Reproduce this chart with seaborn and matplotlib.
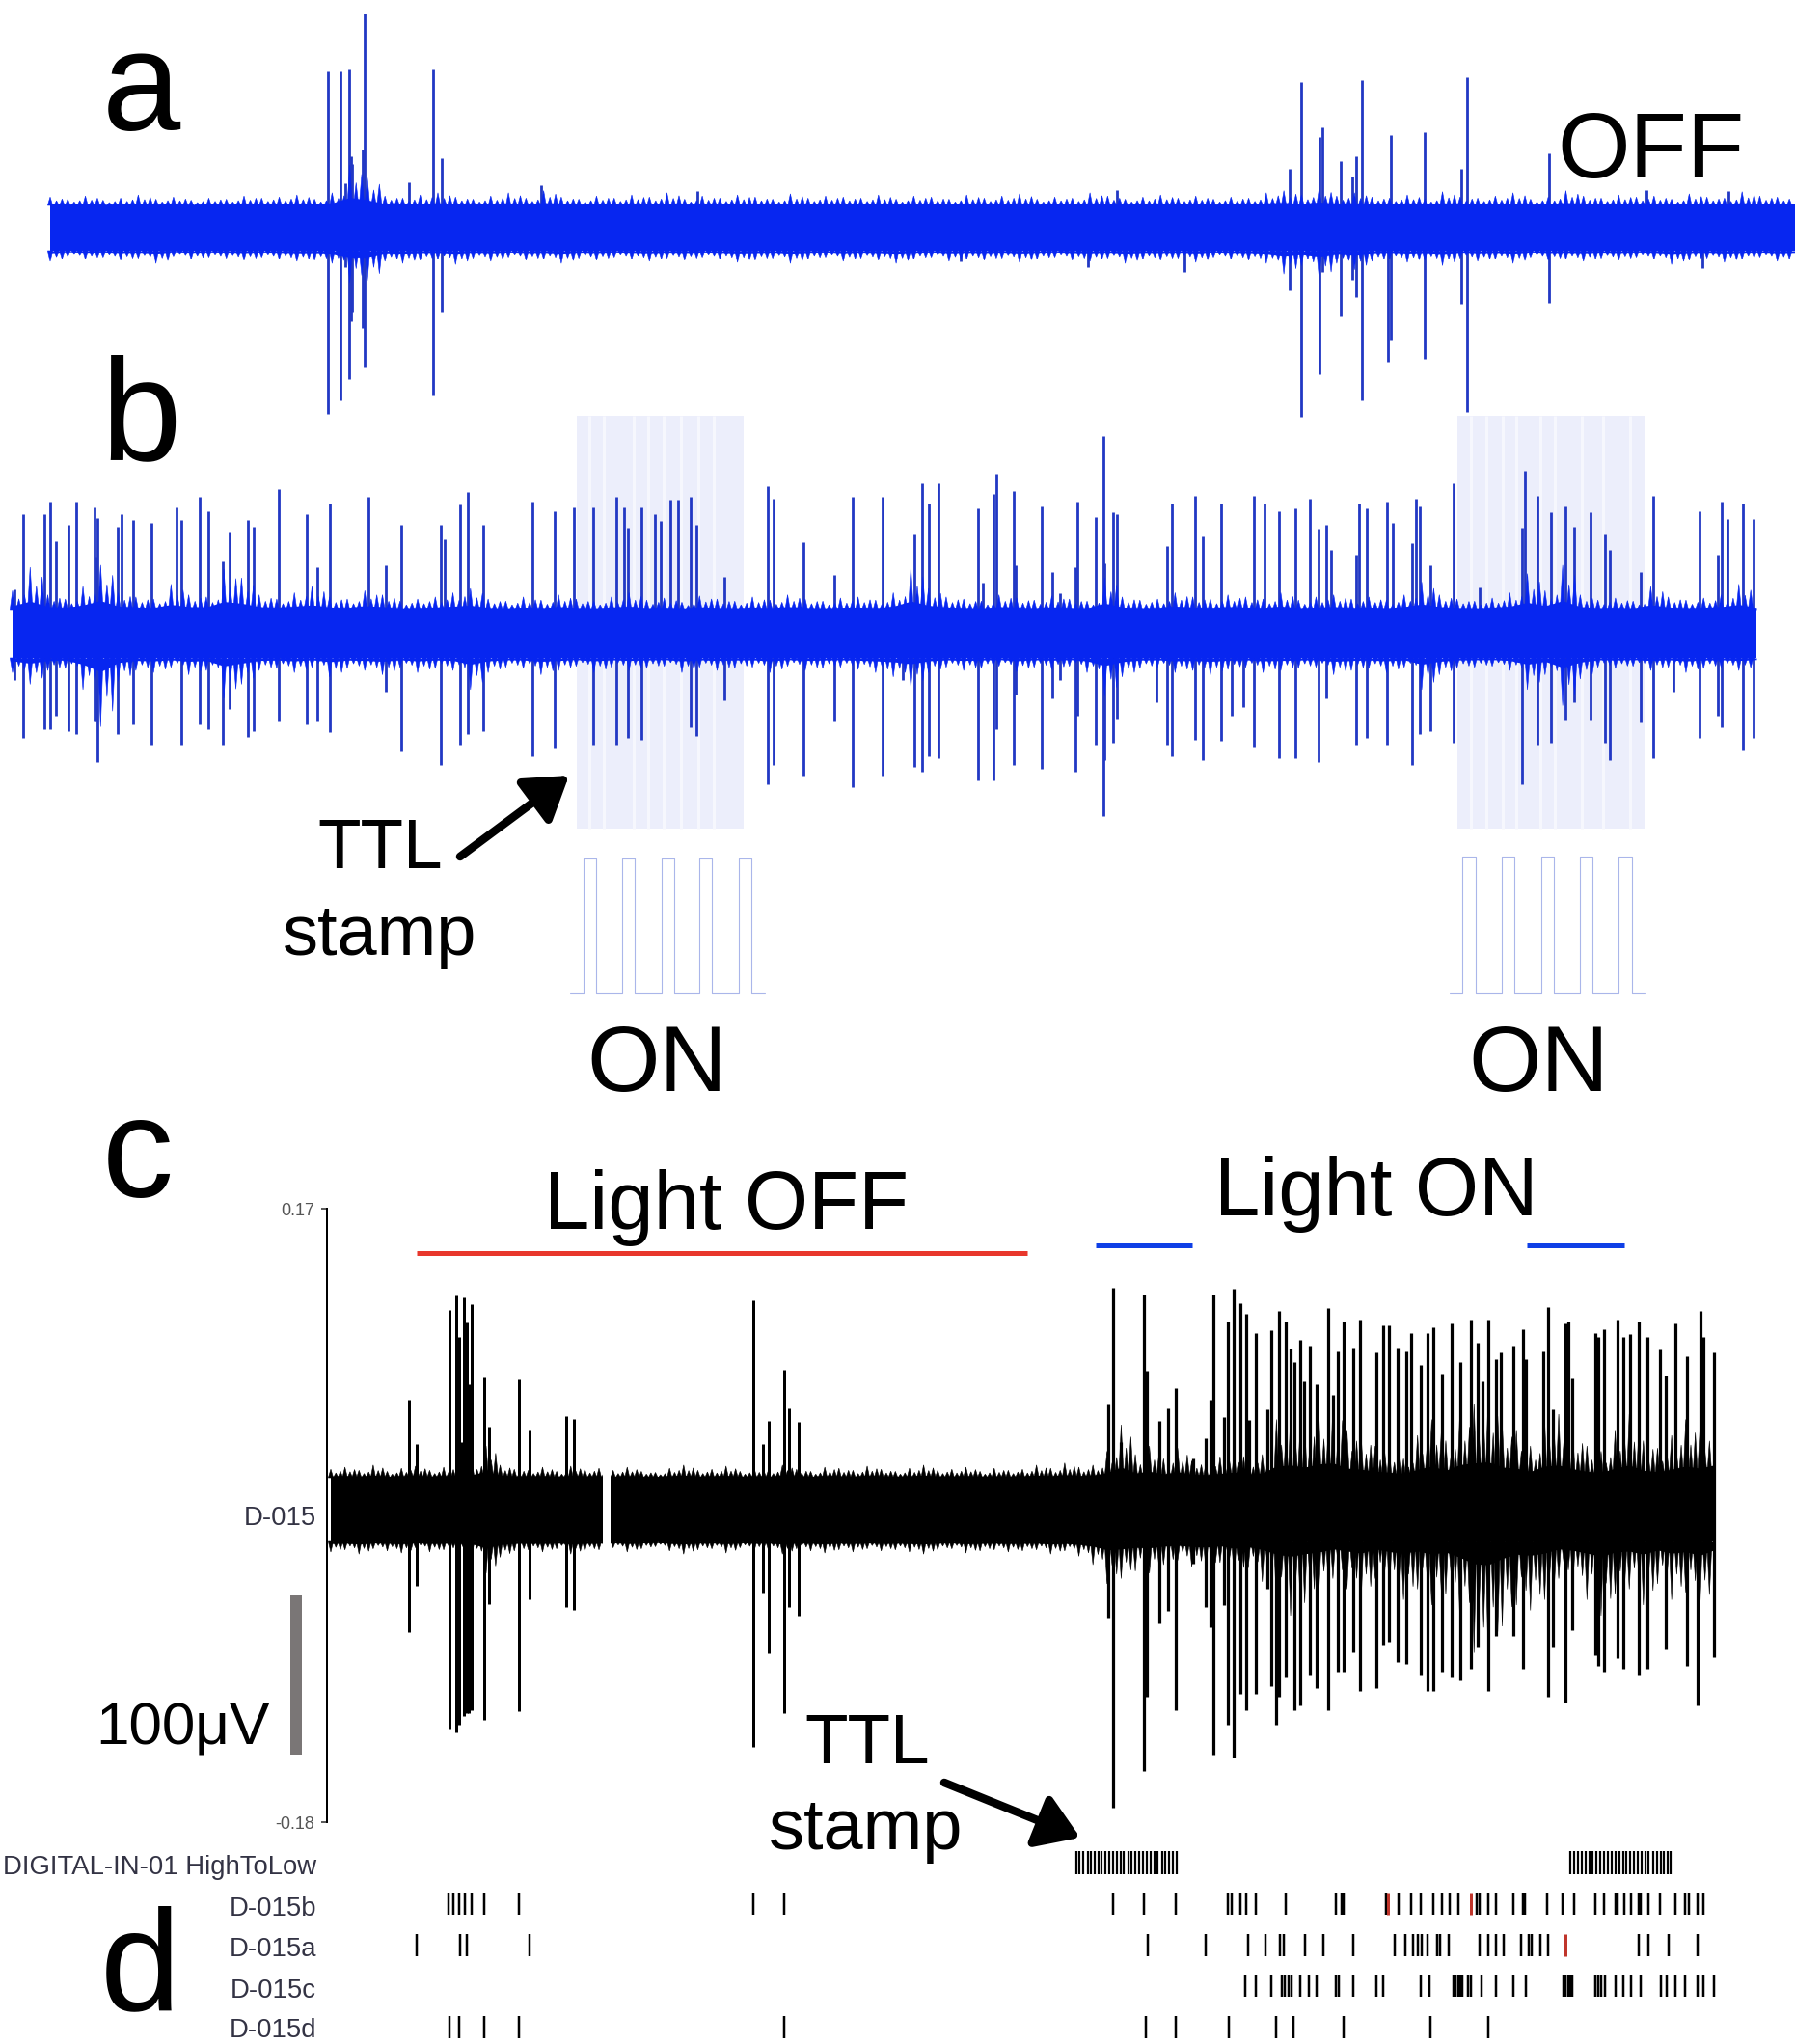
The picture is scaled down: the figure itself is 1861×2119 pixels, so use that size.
import numpy as np
import matplotlib
matplotlib.use("Agg")
import matplotlib.pyplot as plt
from matplotlib.patches import Rectangle
import seaborn as sns

W, H = 1861, 2119
BLUE = "#0726f0"
SPIKE_BLUE = "#2238c4"
PULSE = "#aab6ea"
SHADE = "#eceefb"
FONT = ["Liberation Sans", "DejaVu Sans"]

# (x, top, bottom) read from crops of the picture; 0 = no excursion
A_L = [(573,222,1288),(596,222,1245),(610,215,1180),(613,485,1000),(616,510,970),(634,465,1020),(638,42,1140),
       (757,215,1230),(772,493,968),(715,568,0),(946,575,0),(1219,595,0),(604,570,830)]
A_R = [(687,525,902),(707,255,1295),(739,425,1165),(743,395,845),(775,500,985),(795,550,870),(803,487,925),
       (813,248,1245),(858,0,1125),(863,420,1055),(923,412,1115),(987,525,945),(997,240,1280),(1139,478,942),
       (503,0,845),(333,0,830),(1407,0,835),(112,0,812),(384,592,0),(1453,595,0),(1310,592,0)]
B_L = [(40,225,730),(78,225,710),(88,197,710),(98,285,680),(120,248,715),(134,197,722),(165,208,690),(168,320,690),
       (170,232,785),(205,252,722),(213,225,0),(232,237,700),(264,243,745),(308,208,0),(317,237,745),(349,185,700),
       (365,218,710),(389,330,745),(402,265,665),(433,237,728),(443,252,715),(487,168,690),(536,225,700),(555,345,690),
       (576,200,717),(644,185,0),(675,340,625),(702,248,760),(770,248,790),(778,282,0),(805,203,745),(818,175,720),
       (845,248,715),(930,197,770),(970,218,752),(1003,208,0),(1037,208,745),(1078,185,745),(1091,208,0),(1098,255,730),
       (1122,208,735),(1145,225,0),(1155,240,0),(1172,192,0),(1186,192,0),(1208,185,705),(1218,248,725),(1266,365,645),
       (1342,162,835),(1352,190,790),(1405,288,815),(1458,362,690),(1490,185,840),(1543,185,815),(25,395,600)]
B_R = [(10,0,600),(30,270,795),(43,155,805),(55,200,770),(73,155,775),(141,212,825),(150,380,0),(168,178,825),
       (173,133,710),(204,172,790),(208,340,632),(253,207,800),(271,355,640),(285,402,600),(312,345,805),(316,195,680),
       (348,230,745),(360,48,905),(363,335,780),(378,220,740),(384,225,685),(454,0,650),(472,297,745),(481,200,770),
       (521,183,735),(535,275,780),(566,200,737),(585,0,680),(605,0,660),(624,183,750),(642,200,0),(668,218,775),
       (697,212,775),(722,190,0),(736,258,785),(751,248,640),(758,305,0),(803,315,745),(808,200,0),(821,212,730),
       (856,195,745),(866,245,0),(901,290,790),(907,190,0),(914,207,720),(932,340,715),(973,155,740),(1018,390,0),
       (1093,255,835),(1098,127,0),(1120,183,745),(1143,220,740),(1168,207,688),(1183,252,650),(1213,220,688),
       (1237,270,740),(1246,305,780),(1300,355,695),(1322,183,775),(1358,0,625),(1402,218,730),(1435,315,680),
       (1442,195,705),(1452,235,0),(1478,200,758),(1497,235,730)]
C_L = [(715,403,823),(729,483,740),(785,240,997),(798,215,1005),(803,290,990),(806,480,0),(811,218,975),(816,263,970),
       (820,375,970),(825,230,965),(847,363,982),(855,452,772),(907,367,967),(925,457,763),(990,433,778),(1003,437,783),
       (1317,224,1030),(1334,483,752),(1343,442,862),(1370,348,970),(1379,418,778),(1396,443,793)]
C_R = [(369,412,797),(378,200,1140),(391,480,0),(432,213,1075),(437,350,940),(458,442,808),(474,418,785),(488,382,965),
       (518,510,700),(540,472,778),(548,402,815),(553,213,1045),(571,435,775),(578,262,990),(588,203,1050),(601,228,935),
       (610,248,965),(615,440,0),(628,283,935),(648,420,745),(654,277,920),(662,0,990),(667,243,940),(680,262,905),
       (688,310,0),(694,335,965),(704,295,955),(712,370,0),(721,305,900),(733,375,925),(754,238,965),(762,395,0),
       (770,315,895),(780,262,895),(798,308,860),(810,258,930),(838,318,925),(850,268,845),(860,268,840),(875,308,878),
       (890,315,880),(898,283,0),(915,340,900),(928,283,930),(938,272,930),(952,355,895),(970,265,905),(985,335,910),
       (1003,258,890),(1015,300,850),(1023,370,0),(1033,258,930),(1047,330,830),(1055,318,0),(1078,305,830),(1095,275,890),
       (1100,330,0),(1130,315,0),(1138,235,940),(1147,420,850),(1168,265,950),(1174,262,0),(1180,365,820),(1220,283,865),
       (1226,290,885),(1235,275,895),(1260,258,870),(1270,290,890),(1282,285,0),(1296,262,900),(1312,290,890),(1333,312,0),
       (1344,360,855),(1360,265,0),(1380,325,885),(1400,0,955),(1405,243,0),(1410,290,0),(1428,318,868)]

# outer edge of the noise band, px beyond the solid core, left to right
A_UP = [8,6,9,5,7,10,6,8,5,7,6,9,7,8,10,6,12,38,26,9,7,10,12,8,6,9,12,7,14,8,6,9,7,10,8,12,6,9,7,10,
        8,6,11,7,9,8,7,10,6,9,8,6,10,7,9,11,6,8,7,12,9,6,8,10,7,9,6,8,7,12,14,10,16,9,12,8,7,10,6,13,
        8,7,9,12,6,8,14,9,7,10,8,9,6,11,8,7,13,9,8,10]
A_DOWN = [10,5,8,6,9,7,12,5,8,6,7,9,6,8,10,9,12,30,28,10,12,9,8,13,7,10,6,9,8,12,7,9,6,8,10,7,9,6,8,11,
          9,7,12,8,6,10,7,9,12,8,6,10,8,9,7,11,8,6,9,10,7,12,8,9,7,11,6,8,9,12,22,14,26,12,18,10,8,11,9,14,
          7,10,8,12,6,9,8,10,7,9,6,8,13,9,7,11,8,6,10,8]
B_UP = [18,40,14,10,22,42,16,12,10,24,14,12,38,30,14,10,16,22,12,10,18,14,8,10,12,16,20,10,8,12,9,14,10,8,12,16,
        9,11,7,13,10,8,12,9,14,10,8,11,12,9,16,40,20,12,10,8,14,11,9,13,10,8,30,12,9,10,16,12,10,14,12,10,16,9,12,14,
        10,12,9,14,26,14,10,8,11,16,34,18,42,14,9,11,8,22,12,9,11,14,24,10]
B_DOWN = [14,25,12,10,30,65,22,12,14,9,16,12,38,25,12,10,14,9,18,10,12,16,9,14,10,12,30,14,9,10,16,12,8,14,9,12,
          10,8,14,9,12,10,9,14,8,12,10,9,11,14,18,28,14,9,12,10,8,13,9,11,8,14,36,18,10,9,14,12,16,11,9,14,12,10,9,16,
          12,10,14,9,30,16,10,9,8,12,30,16,45,20,9,10,8,12,9,14,10,9,12,8]
C_UP = [8,10,7,12,6,9,11,7,10,9,14,30,12,8,7,10,6,11,8,9,7,10,6,5,9,12,7,8,11,6,9,7,12,8,6,10,9,7,11,8,
        6,9,12,7,8,10,6,9,7,8,12,9,14,10,12,25,50,22,30,18,28,16,14,20,26,18,22,55,60,50,65,70,45,40,30,
        26,18,40,55,35,62,70,75,50,45,30,55,60,42,30,25,45,60,35,28,40,55,45,60]
C_DOWN = [10,8,12,7,9,11,6,10,8,9,12,30,15,9,8,10,7,12,9,8,6,10,7,5,9,12,8,7,11,6,9,8,12,7,9,11,8,10,7,9,
          8,10,12,8,7,11,9,8,10,9,8,12,9,14,22,40,35,28,30,22,18,24,26,20,32,25,38,60,70,58,50,35,45,55,35,
          48,55,45,60,50,75,105,110,80,60,65,55,35,42,55,70,50,45,60,40,55,48,65,40]

# event rows (crop x)
DIG_1 = [313,319,326,333,339,345,352,358,365,371,378,384,391,397,404,410,417,424,430,437,443,450,456,463,469,476,482,489]
DIG_2 = [1177,1184,1190,1197,1203,1210,1216,1223,1229,1236,1243,1249,1256,1262,1269,1275,1282,1288,1295,1301,1308,1314,1321,1328,1335,1341,1347,1353]
ROW_B_L = [784,793,803,813,825,847,907,1317,1370]
ROW_A_L = [728,805,816,925]
ROW_D_L = [785,803,847,907,1370]
ROW_B_R = [378,431,488,578,585,600,610,628,680,767,777,780,855,876,898,915,938,953,966,982,1013,1018,1033,1047,1078,
           1094,1098,1137,1164,1183,1221,1235,1256,1260,1271,1283,1296,1300,1314,1333,1360,1378,1384,1400,1410]
ROW_B_RED = [858,1003]
ROW_A_R = [439,540,614,644,670,676,714,745,798,870,888,902,910,918,928,945,950,965,1018,1033,1047,1060,1090,1105,1110,
           1125,1138,1296,1313,1348,1400]
ROW_A_RED = [1168]
ROW_C_R = [608,628,654,672,678,684,690,705,720,733,767,772,798,838,850,915,930,973,977,981,985,988,998,1004,1022,1047,
           1078,1099,1165,1169,1173,1177,1181,1221,1226,1231,1237,1256,1270,1283,1300,1335,1345,1360,1378,1400,1410,1428]
ROW_D_R = [435,488,580,662,693,780,933,1033]
ROW_LABELS = ["DIGITAL-IN-01 HighToLow", "D-015b", "D-015a", "D-015c", "D-015d"]
ROW_LABEL_Y = [1936, 1979, 2021, 2064, 2105]

# TTL pulse edges (px)
TTL_L = [605,618,645,658,686,699,725,738,766,779]
TTL_R = [1516,1530,1557,1570,1598,1611,1638,1651,1678,1692]
STRIPES_L = [611,626,657,672,688,706,724,740]
STRIPES_R = [1525,1541,1558,1572,1597,1612,1640,1662,1690]


def xl(z): return z / 1.686
def xr(z): return 930 + z / 1.686
def ya(z): return z / 3
def yb(z): return 430 + z / 2.178
def yc(z): return 1220 + z / 1.744
def yd(z): return 1880 + z / 3


sns.set_theme(style="white", rc={"axes.grid": False})
plt.rcParams["font.family"] = FONT

fig = plt.figure(figsize=(W / 100, H / 100), dpi=100, facecolor="white")
ax = fig.add_axes([0, 0, 1, 1], zorder=1)
ax.set_xlim(0, W); ax.set_ylim(H, 0); ax.axis("off")

PX = 0.72


def band(a, x0, x1, top, bot, up, down, color):
    a.fill_between([x0, x1], top, bot, color=color, lw=0, zorder=3)
    for edge, vals, sign in ((top, up, -1), (bot, down, 1)):
        vals = np.asarray(vals, float)
        xs = np.linspace(x0, x1, len(vals))
        dx = xs[1] - xs[0]
        a.fill_between(xs, edge, edge + sign * vals * 0.22, color=color, lw=0, zorder=3)
        # hairs: full height at each read value, with shorter ones between
        for shift, scale in ((0, 1.1), (0.36, 0.62), (0.68, 0.85)):
            hx = xs[:-1] + shift * dx
            v = vals[:-1] * scale
            for x, h in zip(hx, v):
                a.fill([x - 2.6, x, x + 2.6], [edge, edge + sign * h, edge], color=color, lw=0.4, zorder=3)


def spikes(a, rows, fx, fy, center, color, px=2.8):
    for x, t, b in rows:
        a.vlines(fx(x), fy(t) if t else center, fy(b) if b else center, color=color, lw=px * PX, zorder=2.5)


def raster(a, xs, fx, y0, y1, color="black", px=2.5):
    a.vlines([fx(v) for v in xs], y0, y1, color=color, lw=px * PX, zorder=3)


# --- panel a
band(ax, 52, W, 213, 260, A_UP, A_DOWN, BLUE)
spikes(ax, A_L, xl, ya, 236, SPIKE_BLUE)
spikes(ax, A_R, xr, ya, 236, SPIKE_BLUE)

# --- panel b
for x0, x1, stripes in ((598, 771, STRIPES_L), (1511, 1705, STRIPES_R)):
    ax.add_patch(Rectangle((x0, 431), x1 - x0, 428, color=SHADE, lw=0, zorder=1))
    ax.vlines(stripes, 431, 859, color="#f6f7fd", lw=3 * PX, zorder=1.5)
band(ax, 13, 1821, 632, 682, B_UP, B_DOWN, BLUE)
spikes(ax, B_L, xl, yb, 657, SPIKE_BLUE)
spikes(ax, B_R, xr, yb, 657, SPIKE_BLUE)


def ttl(a, edges, x0, x1, top, bot):
    xs, ys = [x0], [bot]
    for i in range(0, len(edges), 2):
        xs += [edges[i], edges[i], edges[i + 1], edges[i + 1]]
        ys += [bot, top, top, bot]
    xs.append(x1); ys.append(bot)
    sns.lineplot(x=xs, y=ys, sort=False, estimator=None, color=PULSE, lw=1.1 * PX, ax=a, legend=False)


ttl(ax, TTL_L, 591, 793, 890, 1029)
ttl(ax, TTL_R, 1503, 1706, 888, 1029)
ax.set_xlim(0, W); ax.set_ylim(H, 0); ax.axis("off")

# --- panel c, with a real axis
ax_c = fig.add_axes([339 / W, 1 - 1889 / H, (W - 339) / W, (1889 - 1253) / H], zorder=2, facecolor="none")
ax_c.set_xlim(339, W); ax_c.set_ylim(1889, 1253)
for s in ("top", "right", "bottom"):
    ax_c.spines[s].set_visible(False)
ax_c.spines["left"].set_color("black"); ax_c.spines["left"].set_linewidth(2 * PX)
ax_c.set_xticks([])
ax_c.set_yticks([1253, 1889]); ax_c.set_yticklabels(["0.17", "-0.18"])
ax_c.tick_params(axis="y", left=True, length=6 * PX, width=1.5 * PX, pad=5, labelsize=18 * PX, labelcolor="#555555")
band(ax_c, 343, 1777, 1532, 1598, C_UP, C_DOWN, "black")
spikes(ax_c, C_L, xl, yc, 1565, "black", 3.0)
spikes(ax_c, C_R, xr, yc, 1565, "black", 3.2)
ax_c.add_patch(Rectangle((625, 1500), 8, 130, color="white", lw=0, zorder=4))

ax.hlines(1299, 432, 1065, color="#e8372c", lw=5 * PX)
ax.hlines([1291, 1291], [1136, 1583], [1236, 1684], color="#0f3fe6", lw=5 * PX)
ax.add_patch(Rectangle((301, 1654), 12, 165, color="#7a7676", lw=0))

# --- panel d
for vals, fx in ((DIG_1, xr), (DIG_2, xr)):
    raster(ax, vals, fx, 1919, 1943, px=2.2)
raster(ax, ROW_B_L, xl, 1962, 1985); raster(ax, ROW_B_R, xr, 1962, 1985)
raster(ax, ROW_B_RED, xr, 1962, 1985, "#c0352b", 3)
raster(ax, ROW_A_L, xl, 2005, 2028); raster(ax, ROW_A_R, xr, 2005, 2028)
raster(ax, ROW_A_RED, xr, 2005, 2028, "#c0352b", 3)
raster(ax, ROW_C_R, xr, 2047, 2070)
raster(ax, ROW_D_L, xl, 2090, 2113); raster(ax, ROW_D_R, xr, 2090, 2113)

for lab, y in zip(ROW_LABELS, ROW_LABEL_Y):
    ax.text(328, y, lab, ha="right", va="center", fontsize=27.5 * PX, color="#333344", family=FONT)
ax.text(328, 1574, "D-015", ha="right", va="center", fontsize=27.5 * PX, color="#333344", family=FONT)


def label(x, y, s, px):
    ax.text(x, y, s, fontsize=px * PX, ha="left", va="baseline", color="black", family=FONT, zorder=6)


label(106, 135, "a", 146); label(104, 476, "b", 150); label(106, 1241, "c", 148); label(104, 2084, "d", 150)
label(1614, 184, "OFF", 97)
label(608, 1131, "ON", 97); label(1522, 1131, "ON", 97)
label(329, 900, "TTL", 73); label(293, 990, "stamp", 74)
label(564, 1274, "Light OFF", 85); label(1259, 1260, "Light ON", 85)
label(834, 1828, "TTL", 73); label(797, 1917, "stamp", 74)
label(99, 1808, "100\u03bcV", 62)


def arrow(p0, p1):
    ax.annotate("", xy=p1, xytext=p0, zorder=6,
                arrowprops=dict(arrowstyle="-|>,head_length=0.55,head_width=0.36", color="black", lw=8.5 * PX,
                                mutation_scale=48, shrinkA=0, shrinkB=0))


arrow((477, 888), (590, 804))
arrow((979, 1848), (1120, 1905))

fig.savefig("out.png", dpi=100, facecolor="white")
